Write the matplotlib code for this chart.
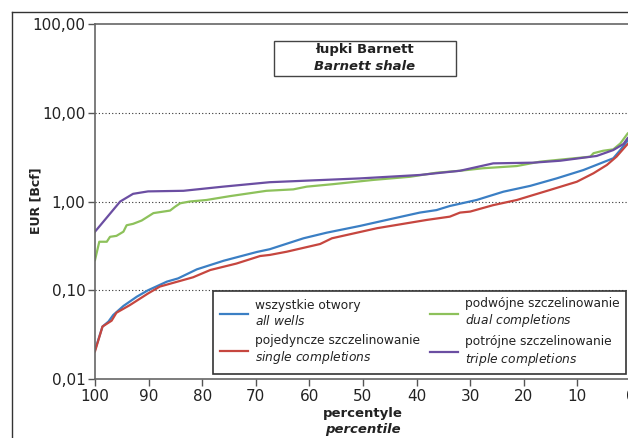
import matplotlib
matplotlib.use('Agg')
import matplotlib.pyplot as plt
from matplotlib.lines import Line2D
from matplotlib.patches import Rectangle
from matplotlib import ticker

import numpy as np

FONT = ['Liberation Sans Narrow', 'DejaVu Sans Condensed', 'DejaVu Sans']
plt.rcParams['font.family'] = FONT
plt.rcParams['mathtext.fontset'] = 'custom'
plt.rcParams['mathtext.it'] = 'Liberation Sans Narrow:italic'
plt.rcParams['mathtext.rm'] = 'Liberation Sans Narrow'

W, H = 628, 438

# percentile (x) and EUR in Bcf (y)
p_all = [100, 98.6, 97.5, 96.6, 94.7, 92.2, 90.1, 86.6, 84.5, 81, 76, 69.8, 67.4,
         61.1, 56.8, 50.6, 44.3, 39.4, 36.3, 33.8, 28.8, 23.8, 18.8, 13.9, 8.9,
         3.3, 2, 0.8, 0]
eur_all = [0.0212, 0.039, 0.0443, 0.0526, 0.0665, 0.0846, 0.1, 0.125, 0.136, 0.172,
           0.215, 0.27, 0.29, 0.385, 0.445, 0.53, 0.645, 0.75, 0.80, 0.89, 1.04,
           1.29, 1.50, 1.82, 2.26, 3.07, 3.8, 4.72, 5.2]

p_single = [100, 98.6, 96.9, 96, 93.5, 90.1, 87.9, 81.7, 78.5, 73.6, 69.2, 67.4,
            64.2, 58, 55.8, 47.4, 38.1, 33.8, 31.9, 30, 25.7, 21.3, 15.1, 10.1,
            7, 4.5, 2.7, 0.8, 0]
eur_single = [0.0205, 0.039, 0.0454, 0.0558, 0.068, 0.092, 0.11, 0.14, 0.169,
              0.20, 0.243, 0.25, 0.272, 0.332, 0.385, 0.50, 0.62, 0.675, 0.75,
              0.77, 0.91, 1.04, 1.35, 1.67, 2.08, 2.58, 3.2, 4.33, 4.8]

p_dual = [100, 99.2, 97.8, 97.2, 96, 94.7, 94.1, 92.9, 91.3, 89.1, 86, 85.1, 84.1,
          82.3, 79.2, 74.8, 68, 63, 60.5, 55.5, 48.1, 41.2, 36.3, 31.9, 27.6,
          21.3, 17, 7.6, 7, 5.2, 3.3, 2, 0.6, 0]
eur_dual = [0.219, 0.352, 0.352, 0.40, 0.41, 0.457, 0.54, 0.56, 0.61, 0.74, 0.79,
            0.87, 0.955, 1.0, 1.04, 1.15, 1.32, 1.37, 1.47, 1.57, 1.75, 1.9, 2.11,
            2.22, 2.37, 2.51, 2.81, 3.2, 3.5, 3.73, 3.87, 4.5, 5.86, 6.2]

p_triple = [100, 95.3, 92.9, 90.1, 83.5, 76.1, 67.4, 50.6, 39.4, 31.9, 25.7, 18.2,
            13.2, 6.4, 3.3, 1.4, 0.6, 0]
eur_triple = [0.457, 1.0, 1.22, 1.30, 1.32, 1.47, 1.65, 1.82, 1.99, 2.22, 2.69,
              2.74, 2.88, 3.26, 3.8, 4.45, 5.2, 5.5]

x_ticks = list(range(100, -1, -10))
y_ticks = [0.01, 0.1, 1, 10, 100]
y_labels = ['0,01', '0,10', '1,00', '10,00', '100,00']

labels = ['wszystkie otwory\n$\\mathit{all\\ wells}$',
          'pojedyncze szczelinowanie\n$\\mathit{single\\ completions}$',
          'podwójne szczelinowanie\n$\\mathit{dual\\ completions}$',
          'potrójne szczelinowanie\n$\\mathit{triple\\ completions}$']
colors = ['#3b7fc4', '#c6463f', '#8dc15b', '#6b4ea2']

fig = plt.figure(figsize=(W / 100, H / 100), dpi=100)
ax = fig.add_axes([95 / W, 1 - 379 / H, (631 - 95) / W, (379 - 24) / H])

series = [(p_all, eur_all), (p_single, eur_single), (p_dual, eur_dual),
          (p_triple, eur_triple)]
handles = []
for (px, vy), c in zip(series, colors):
    ln, = ax.plot(px, vy, color=c, lw=1.6)
    handles.append(ln)

ax.set_yscale('log')
ax.set_ylim(0.01, 100)
ax.set_xlim(100, 0)
ax.set_xticks(x_ticks)
ax.set_xticklabels([str(t) for t in x_ticks])
ax.set_yticks(y_ticks)
ax.yaxis.set_major_formatter(ticker.FixedFormatter(y_labels))
ax.yaxis.set_minor_locator(ticker.NullLocator())
ax.tick_params(axis='both', direction='out', length=5, width=1, color='#555555',
               labelsize=11, labelcolor='#222222', pad=2)

for y in [0.1, 1, 10]:
    ax.axhline(y, color='#333333', lw=0.8, ls=(0, (1, 2)), zorder=0)

for s in ['left', 'bottom', 'top']:
    ax.spines[s].set_color('#666666')
    ax.spines[s].set_linewidth(1.2)
ax.spines['right'].set_visible(False)

leg = ax.legend(handles, labels, ncol=2, loc='lower right',
                bbox_to_anchor=(626 / W, 1 - 374 / H), bbox_transform=fig.transFigure,
                fancybox=False, framealpha=1, edgecolor='#333333',
                fontsize=8.8, handlelength=2.3, handletextpad=0.6,
                columnspacing=0.8, labelspacing=0.5, borderpad=0.5,
                borderaxespad=0)
leg.get_frame().set_linewidth(1.2)
for t in leg.get_texts():
    t.set_color('#222222')

# axis labels
fig.text(36 / W, 1 - 201 / H, 'EUR [Bcf]', rotation=90, ha='center', va='center',
         fontsize=9, fontweight='bold', color='#222222')
fig.text(363 / W, 1 - 413 / H, 'percentyle', ha='center', va='center',
         fontsize=9.5, fontweight='bold', color='#222222')
fig.text(363 / W, 1 - 430 / H, 'percentile', ha='center', va='center',
         fontsize=9.5, fontweight='bold', style='italic', color='#222222')

# title box
fig.add_artist(Rectangle((274 / W, 1 - 76 / H), (456 - 274) / W, 35 / H,
                         transform=fig.transFigure, fill=False,
                         edgecolor='#444444', lw=1.0))
fig.text(365 / W, 1 - 50 / H, 'łupki Barnett', ha='center', va='center',
         fontsize=9.5, fontweight='bold', color='#222222')
fig.text(365 / W, 1 - 67 / H, 'Barnett shale', ha='center', va='center',
         fontsize=9.5, fontweight='bold', style='italic', color='#222222')

# outer frame
fig.add_artist(Line2D([12 / W, 1], [1 - 12 / H, 1 - 12 / H], transform=fig.transFigure,
                      color='#333333', lw=1.0))
fig.add_artist(Line2D([12 / W, 12 / W], [1 - 12 / H, 0], transform=fig.transFigure,
                      color='#333333', lw=1.0))

fig.savefig('out.png', dpi=100)
